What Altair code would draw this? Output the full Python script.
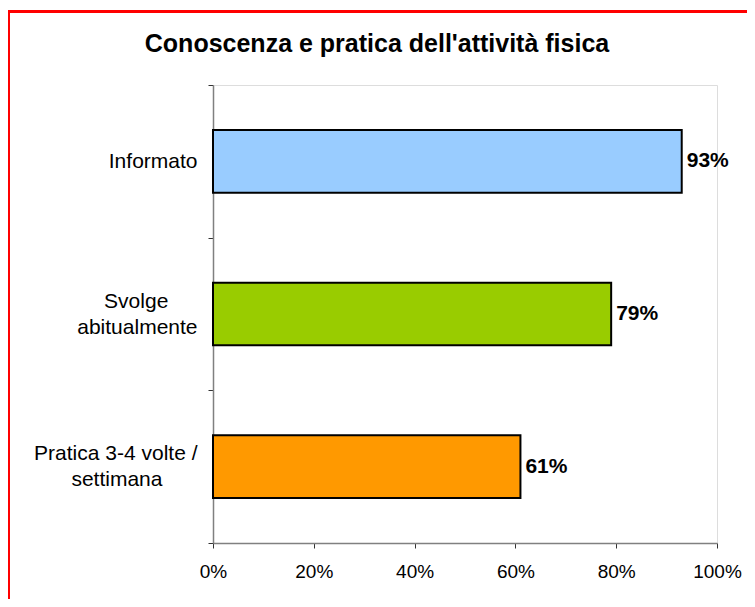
import json
import altair as alt
import pandas as pd

categories = ["Informato", "Svolge|abitualmente", "Pratica 3-4 volte /|settimana"]
values = [93, 79, 61]
colors = ["#99CCFF", "#99CC00", "#FF9900"]
x_ticks = [0, 20, 40, 60, 80, 100]
title_text = "Conoscenza e pratica dell'attività fisica"

NBSP = "\u00a0"
ZW = "\u200b"
# display text for the axis labels (second lines centred under the first)
display_labels = {
    "Informato": "Informato",
    "Svolge|abitualmente": "Svolge" + NBSP * 5 + ZW + "|abitualmente",
    "Pratica 3-4 volte /|settimana": "Pratica 3-4 volte /|settimana" + NBSP * 6 + ZW,
}

df = pd.DataFrame({
    "cat": categories,
    "val": values,
    "color": colors,
    "label": [f"{v}%" for v in values],
})

FONT = "Liberation Sans"

label_expr = (
    "datum.value ? split(" + json.dumps(display_labels, ensure_ascii=False)
    + "[datum.value], '|') : ''"
)

y_axis = alt.Axis(
    title=None,
    labelExpr=label_expr,
    labelAlign="right",
    labelBaseline="middle",
    labelFont=FONT,
    labelFontSize=21,
    labelColor="black",
    labelLineHeight=26,
    labelPadding=11,
    labelLimit=400,
    labelOffset={"condition": {"test": "datum.value && indexof(datum.value, '|') >= 0", "value": -13}, "value": 0},
    tickBand="extent",
    tickSize=5,
    tickColor="#333333",
    tickWidth=1,
    domainColor="#808080",
    domainWidth=1.5,
    grid=False,
)
x_axis = alt.Axis(
    title=None,
    values=x_ticks,
    labelExpr="datum.value + '%'",
    labelFont=FONT,
    labelFontSize=19,
    labelColor="black",
    labelPadding=14,
    labelFlush=False,
    tickSize=5,
    tickColor="#333333",
    tickWidth=1,
    domainColor="#808080",
    domainWidth=1.5,
    grid=False,
)

y_enc = alt.Y("cat:N", sort=categories, scale=alt.Scale(paddingInner=0, paddingOuter=0), axis=y_axis)
x_enc = alt.X("val:Q", scale=alt.Scale(domain=[0, 100], nice=False), axis=x_axis)

deco = pd.DataFrame({"t": [title_text]})

frame = alt.Chart(deco).mark_rect(
    filled=False, stroke="#FF0000", strokeWidth=3
).encode(
    x=alt.value(-204.5), x2=alt.value(3000),
    y=alt.value(-73.5), y2=alt.value(3000),
)

title = alt.Chart(deco).mark_text(
    align="center", baseline="alphabetic", font=FONT, fontSize=25,
    fontWeight="bold", color="black"
).encode(x=alt.value(164), y=alt.value(-33), text="t:N")

bars = alt.Chart(df).mark_bar(
    height={"band": 0.41}, stroke="black", strokeWidth=2
).encode(
    x=x_enc, y=y_enc, color=alt.Color("color:N", scale=None, legend=None)
)

text = alt.Chart(df).mark_text(
    align="left", baseline="middle", dx=5, font=FONT, fontSize=21,
    fontWeight="bold", color="black"
).encode(x=x_enc, y=y_enc, text="label:N")

chart = alt.layer(frame, title, bars, text).properties(
    width=504,
    height=458,
    autosize=alt.AutoSizeParams(type="none"),
    padding={"left": 205, "top": 77, "right": 30, "bottom": 56},
).configure_view(stroke=None).configure(background="white")

chart.save("out.html", embed_options={"renderer": "svg", "actions": False})
